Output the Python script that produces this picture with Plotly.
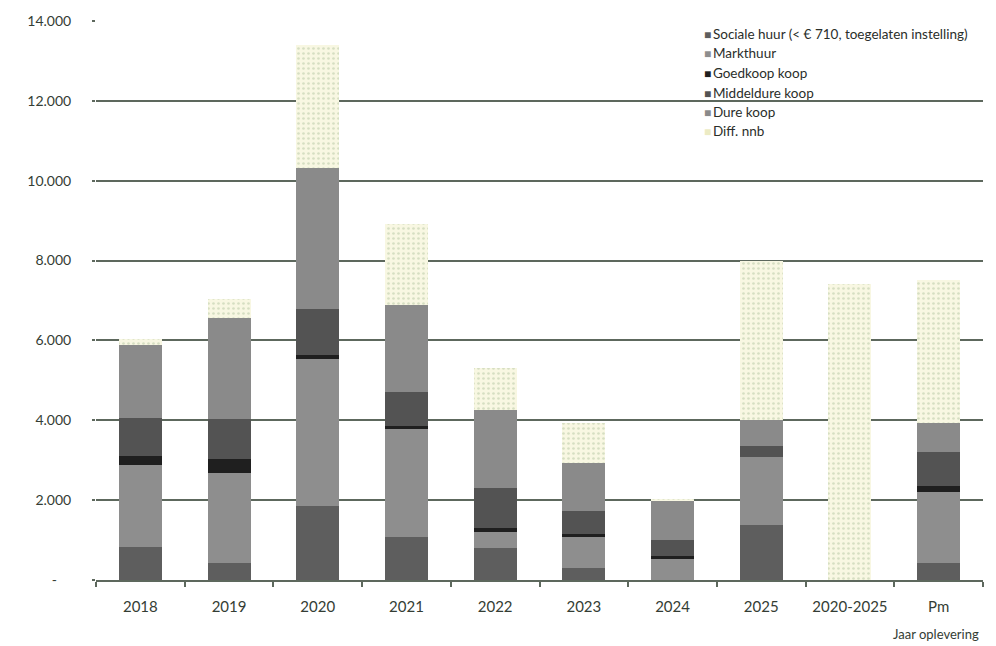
import plotly.graph_objects as go

# Categories (year of delivery)
jaren = ["2018", "2019", "2020", "2021", "2022", "2023", "2024", "2025", "2020-2025", "Pm"]

# Number of homes per segment
sociale_huur = [820, 430, 1850, 1070, 800, 300, 0, 1370, 0, 420]
markthuur = [2050, 2240, 3690, 2720, 400, 770, 520, 1720, 0, 1780]
goedkoop_koop = [225, 350, 100, 75, 100, 75, 75, 0, 0, 150]
middeldure_koop = [950, 1020, 1150, 850, 1000, 575, 400, 275, 0, 850]
dure_koop = [1850, 2520, 3540, 2180, 1970, 1200, 975, 650, 0, 720]
diff_nnb = [150, 470, 3070, 2020, 1050, 1020, 60, 3970, 7410, 3590]

series = [
    ("Sociale huur (< € 710, toegelaten instelling)", sociale_huur, "#5e5e5e"),
    ("Markthuur", markthuur, "#8e8e8e"),
    ("Goedkoop koop", goedkoop_koop, "#1f1f1f"),
    ("Middeldure koop", middeldure_koop, "#535353"),
    ("Dure koop", dure_koop, "#8a8a8a"),
    ("Diff. nnb", diff_nnb, "#f8f7e2"),
]

y_ticks = [0, 2000, 4000, 6000, 8000, 10000, 12000, 14000]
y_ticktext = ["-    ", "2.000", "4.000", "6.000", "8.000", "10.000", "12.000", "14.000"]

FONT = "Lato"
TEXT_COL = "#343d34"
GRID_COL = "#5d685d"

fig = go.Figure()
for name, vals, col in series:
    marker = dict(color=col, line=dict(width=0))
    if name == "Diff. nnb":
        marker["pattern"] = dict(shape=".", fgcolor="#b3c6a2", bgcolor=col,
                                 size=5, solidity=0.22)
    fig.add_trace(go.Bar(x=jaren, y=vals, name=name, marker=marker,
                         showlegend=False))

# Legend drawn as text entries with coloured squares
legend_rows_y = [0.977, 0.943, 0.907, 0.872, 0.838, 0.804]
for (name, _, col), yy in zip(series, legend_rows_y):
    sq_col = "#ecebc4" if name == "Diff. nnb" else col
    fig.add_annotation(
        xref="paper", yref="paper", x=0.683, y=yy, xanchor="left", yanchor="middle",
        showarrow=False,
        text=f"<span style='color:{sq_col};font-size:12px'>■</span>\u2009{name}",
        font=dict(family=FONT, size=13.5, color="#2a2e2a"),
    )

fig.add_annotation(
    xref="paper", yref="paper", x=0.998, y=-0.097, xanchor="right", yanchor="middle",
    showarrow=False, text="Jaar oplevering",
    font=dict(family=FONT, size=13, color=TEXT_COL),
)

fig.update_layout(
    width=996, height=646,
    margin=dict(l=96, r=13, t=19, b=66),
    barmode="stack", bargap=0.515,
    plot_bgcolor="white", paper_bgcolor="white",
    font=dict(family=FONT, size=14, color=TEXT_COL),
    showlegend=False,
)
fig.update_xaxes(
    type="category", showgrid=False,
    showline=True, linecolor=GRID_COL, linewidth=1.5,
    ticks="outside", tickson="boundaries", ticklen=5, tickcolor=GRID_COL, tickwidth=1.5,
    tickfont=dict(family=FONT, size=15, color=TEXT_COL),
    ticklabelstandoff=12,
)
fig.update_yaxes(
    range=[0, 14000], tickvals=y_ticks, ticktext=y_ticktext,
    showgrid=True, gridcolor=GRID_COL, gridwidth=1.5,
    zeroline=False, showline=False,
    ticks="outside", ticklen=3, tickcolor=GRID_COL, tickwidth=1.5,
    tickfont=dict(family=FONT, size=14, color=TEXT_COL),
    ticklabelstandoff=18,
)

fig.write_html("out.html")
